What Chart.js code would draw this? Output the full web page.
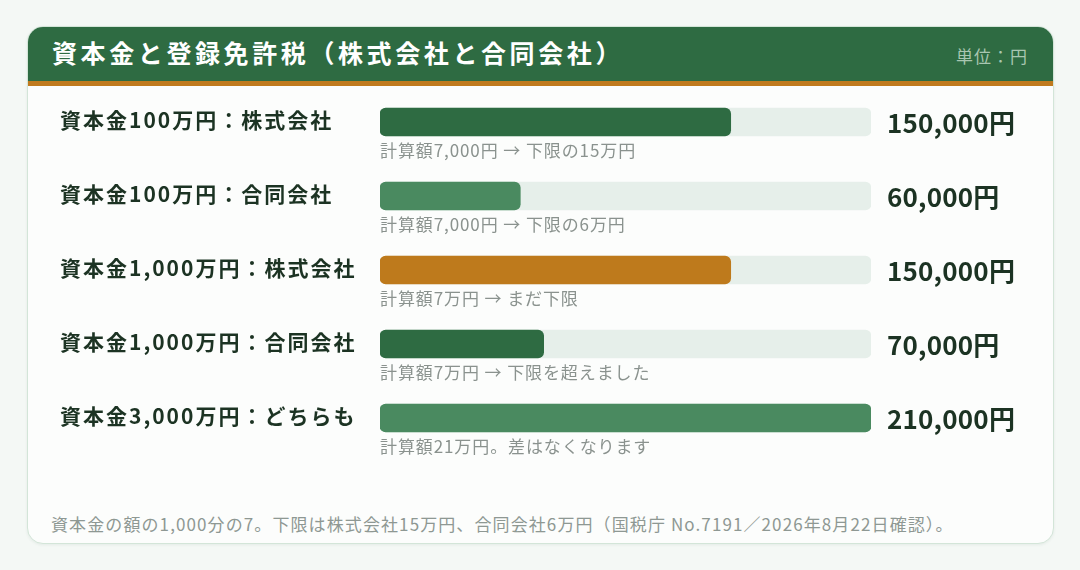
<!DOCTYPE html>
<html lang="ja">
<head>
<meta charset="utf-8">
<script src="https://cdn.jsdelivr.net/npm/chart.js@4"></script>
<style>
  html, body { margin: 0; padding: 0; }
  body {
    width: 1080px; height: 570px; overflow: hidden;
    background: #f4f8f5;
    font-family: "Noto Sans CJK JP", "Noto Sans", sans-serif;
  }
  .card {
    position: absolute; left: 27px; top: 26px; width: 1025px; height: 516px;
    background: #fcfdfc; border: 1px solid #d3e5d8; border-radius: 16px;
    box-shadow: 0 1px 3px rgba(40, 90, 60, 0.08);
    overflow: hidden;
  }
  .head {
    height: 54px; background: #2e6b42; border-bottom: 5px solid #c07a1e;
    position: relative;
  }
  .head h1 {
    margin: 0; position: absolute; left: 24px; top: 7px;
    font-size: 25px; font-weight: 700; color: #ffffff; letter-spacing: 3.6px;
    white-space: nowrap;
  }
  .head .unit {
    position: absolute; right: 25px; top: 16px;
    font-size: 17px; color: #a9c6b1; letter-spacing: 1px;
  }
  .foot {
    position: absolute; left: 23px; top: 484px;
    font-size: 17px; color: #8e9893; letter-spacing: 1.1px; white-space: nowrap;
  }
  #wrap { position: absolute; left: 0; top: 0; width: 1080px; height: 570px; }
</style>
</head>
<body>
<div class="card">
  <div class="head">
    <h1>資本金と登録免許税（株式会社と合同会社）</h1>
    <div class="unit">単位：円</div>
  </div>
  <div class="foot">資本金の額の1,000分の7。下限は株式会社15万円、合同会社6万円（国税庁 No.7191／2026年8月22日確認）。</div>
</div>
<div id="wrap"><canvas id="barChart"></canvas></div>
<script>
// data
var categories = [
    '資本金100万円：株式会社',
    '資本金100万円：合同会社',
    '資本金1,000万円：株式会社',
    '資本金1,000万円：合同会社',
    '資本金3,000万円：どちらも'
];
var taxValues = [150000, 60000, 150000, 70000, 210000];
var valueLabels = ['150,000円', '60,000円', '150,000円', '70,000円', '210,000円'];
var notes = [
    '計算額7,000円 → 下限の15万円',
    '計算額7,000円 → 下限の6万円',
    '計算額7万円 → まだ下限',
    '計算額7万円 → 下限を超えました',
    '計算額21万円。差はなくなります'
];
var barColors = ['#2e6b42', '#4a8a60', '#be7a1c', '#2e6b42', '#4a8a60'];
var scaleMax = 210000;

var FONT = '"Noto Sans CJK JP", "Noto Sans", sans-serif';

// labels on the left, value on the right, note under each bar
var rowText = {
    id: 'rowText',
    afterDatasetsDraw: function (chart) {
        var ctx = chart.ctx;
        var y = chart.scales.y;
        var area = chart.chartArea;
        ctx.save();
        ctx.textBaseline = 'middle';
        ctx.textAlign = 'left';
        categories.forEach(function (cat, i) {
            var cy = y.getPixelForValue(i);
            ctx.fillStyle = '#1c3323';
            ctx.font = '700 21px ' + FONT;
            ctx.letterSpacing = '2px';
            ctx.fillText(cat, 60, cy - 2);

            ctx.font = '700 26px ' + FONT;
            ctx.letterSpacing = '0.2px';
            ctx.fillText(valueLabels[i], area.right + 16, cy + 1);

            ctx.fillStyle = '#8a928e';
            ctx.font = '400 17px ' + FONT;
            ctx.letterSpacing = '0.9px';
            ctx.fillText(notes[i], area.left, cy + 29);
        });
        ctx.restore();
    }
};

var ctx = document.getElementById('barChart').getContext('2d');
new Chart(ctx, {
    type: 'bar',
    data: {
        labels: categories,
        datasets: [{
            label: '登録免許税',
            data: taxValues,
            backgroundColor: barColors,
            borderRadius: 6,
            borderSkipped: false,
            barThickness: 28,
            order: 1
        }, {
            label: 'track',
            data: categories.map(function () { return scaleMax; }),
            backgroundColor: '#e6efea',
            borderRadius: 6,
            borderSkipped: false,
            barThickness: 28,
            order: 2
        }]
    },
    options: {
        indexAxis: 'y',
        responsive: true,
        maintainAspectRatio: false,
        animation: false,
        datasets: { bar: { grouped: false } },
        layout: {
            padding: { left: 380, right: 209, top: 85, bottom: 115 }
        },
        plugins: {
            legend: { display: false },
            tooltip: { enabled: false }
        },
        scales: {
            x: { display: false, min: 0, max: scaleMax },
            y: { display: false }
        }
    },
    plugins: [rowText]
});
</script>
</body>
</html>
